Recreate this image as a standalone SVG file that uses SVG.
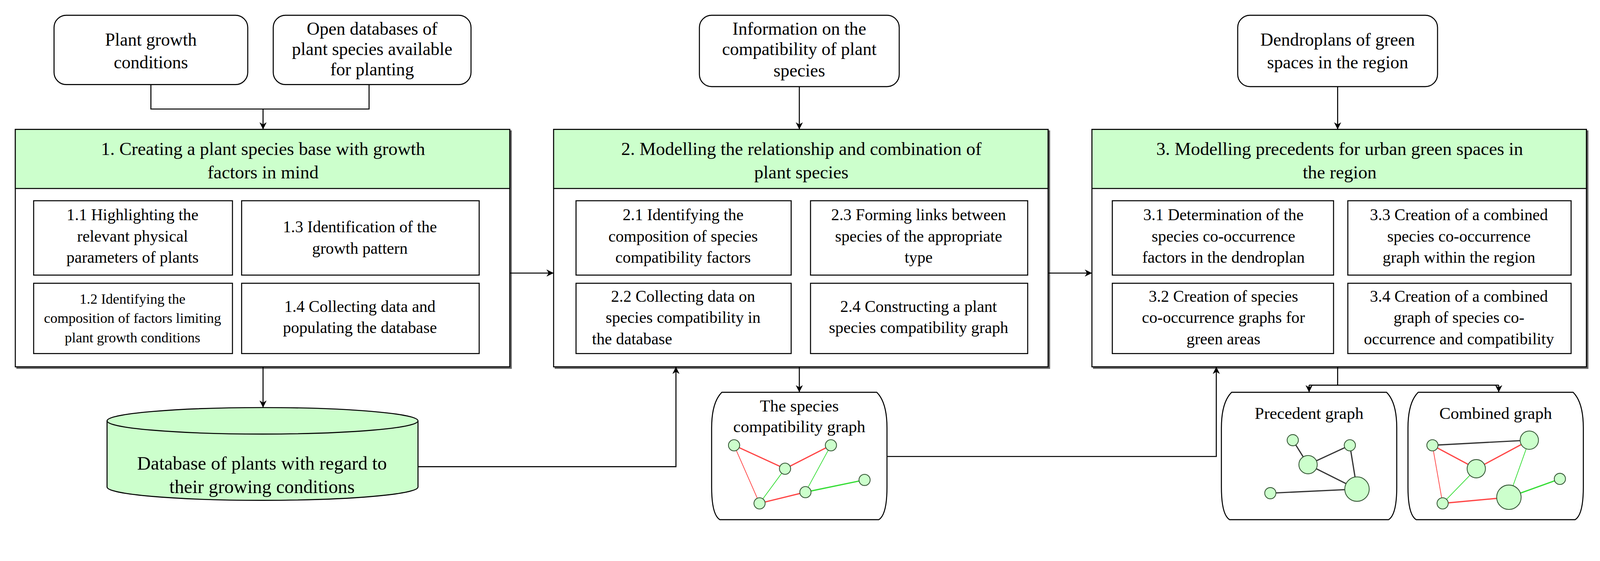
<svg xmlns="http://www.w3.org/2000/svg" width="4273" height="1437" viewBox="0 0 4273 1437">
<defs>
<marker id="ah" viewBox="0 0 10 10" refX="10" refY="5" markerWidth="7" markerHeight="7" orient="auto" markerUnits="userSpaceOnUse"><path d="M0,0 L10,5 L0,10 L3,5 z" fill="#000"/></marker>
<style>
text{font-family:"Liberation Serif","Times New Roman",serif;fill:#000;text-anchor:middle}
.t{font-size:18px}.i{font-size:17.5px}.s{font-size:16px}.x{font-size:14px}.g{font-size:16.5px}.d{font-size:18.5px}
.b{fill:#fff;stroke:#000;stroke-width:1}
.sh{fill:#666}
.h{fill:#ccffcc;stroke:#000;stroke-width:1}
.c{fill:none;stroke:#000;stroke-width:1}
.n{fill:#ccffcc;stroke:#335533;stroke-width:0.8}
.er{stroke:#ff4444;stroke-width:1.2}.eg{stroke:#33dd33;stroke-width:1.2}.ek{stroke:#333;stroke-width:1.2}
</style>
</defs>
<rect width="4273" height="1437" fill="#fff"/>
<g transform="scale(2.61)">
<g id="in1"><rect class="b" x="53" y="15" width="190" height="68" rx="12"/><text class="i" x="148" y="45">Plant growth</text><text class="i" x="148" y="67">conditions</text></g>
<g id="in2"><rect class="b" x="268" y="15" width="194" height="68" rx="12"/><text class="i" x="365" y="34">Open databases of</text><text class="i" x="365" y="54">plant species available</text><text class="i" x="365" y="74">for planting</text></g>
<g id="in3"><rect class="b" x="686" y="15" width="196" height="70" rx="12"/><text class="i" x="784" y="34">Information on the</text><text class="i" x="784" y="54">compatibility of plant</text><text class="i" x="784" y="75">species</text></g>
<g id="in4"><rect class="b" x="1214" y="15" width="196" height="70" rx="12"/><text class="i" x="1312" y="45">Dendroplans of green</text><text class="i" x="1312" y="67">spaces in the region</text></g>

<g id="box1">
<rect class="sh" x="16" y="128" width="486" height="234"/>
<rect class="b" x="15" y="127" width="485" height="233"/>
<rect class="h" x="15" y="127" width="485" height="58"/>
<text class="t" x="258" y="152">1. Creating a plant species base with growth</text><text class="t" x="258" y="175">factors in mind</text>
<rect class="b" x="33" y="197" width="195" height="73"/><text class="s" x="130" y="216">1.1 Highlighting the</text><text class="s" x="130" y="237">relevant physical</text><text class="s" x="130" y="258">parameters of plants</text>
<rect class="b" x="237" y="197" width="233" height="73"/><text class="s" x="353" y="228">1.3 Identification of the</text><text class="s" x="353" y="249">growth pattern</text>
<rect class="b" x="33" y="278" width="195" height="69"/><text class="x" x="130" y="298">1.2 Identifying the</text><text class="x" x="130" y="317">composition of factors limiting</text><text class="x" x="130" y="336">plant growth conditions</text>
<rect class="b" x="237" y="278" width="233" height="69"/><text class="s" x="353" y="306">1.4 Collecting data and</text><text class="s" x="353" y="327">populating the database</text>
</g>
<g id="box2">
<rect class="sh" x="544" y="128" width="486" height="234"/>
<rect class="b" x="543" y="127" width="485" height="233"/>
<rect class="h" x="543" y="127" width="485" height="58"/>
<text class="t" x="786" y="152">2. Modelling the relationship and combination of</text><text class="t" x="786" y="175">plant species</text>
<rect class="b" x="565" y="197" width="211" height="73"/><text class="s" x="670" y="216">2.1 Identifying the</text><text class="s" x="670" y="237">composition of species</text><text class="s" x="670" y="258">compatibility factors</text>
<rect class="b" x="795" y="197" width="213" height="73"/><text class="s" x="901" y="216">2.3 Forming links between</text><text class="s" x="901" y="237">species of the appropriate</text><text class="s" x="901" y="258">type</text>
<rect class="b" x="565" y="278" width="211" height="69"/><text class="s" x="670" y="296">2.2 Collecting data on</text><text class="s" x="670" y="317">species compatibility in</text><text class="s" x="620" y="338">the database</text>
<rect class="b" x="795" y="278" width="213" height="69"/><text class="s" x="901" y="306">2.4 Constructing a plant</text><text class="s" x="901" y="327">species compatibility graph</text>
</g>
<g id="box3">
<rect class="sh" x="1072" y="128" width="486" height="234"/>
<rect class="b" x="1071" y="127" width="485" height="233"/>
<rect class="h" x="1071" y="127" width="485" height="58"/>
<text class="t" x="1314" y="152">3. Modelling precedents for urban green spaces in</text><text class="t" x="1314" y="175">the region</text>
<rect class="b" x="1091" y="197" width="217" height="73"/><text class="s" x="1200" y="216">3.1 Determination of the</text><text class="s" x="1200" y="237">species co-occurrence</text><text class="s" x="1200" y="258">factors in the dendroplan</text>
<rect class="b" x="1322" y="197" width="219" height="73"/><text class="s" x="1431" y="216">3.3 Creation of a combined</text><text class="s" x="1431" y="237">species co-occurrence</text><text class="s" x="1431" y="258">graph within the region</text>
<rect class="b" x="1091" y="278" width="217" height="69"/><text class="s" x="1200" y="296">3.2 Creation of species</text><text class="s" x="1200" y="317">co-occurrence graphs for</text><text class="s" x="1200" y="338">green areas</text>
<rect class="b" x="1322" y="278" width="219" height="69"/><text class="s" x="1431" y="296">3.4 Creation of a combined</text><text class="s" x="1431" y="317">graph of species co-</text><text class="s" x="1431" y="338">occurrence and compatibility</text>
</g>

<g id="db">
<path class="h" d="M105,413 L105,478 A152,13 0 0 0 410,478 L410,413"/>
<ellipse class="h" cx="257.5" cy="413" rx="152.5" ry="13"/>
<text class="d" x="257" y="461">Database of plants with regard to</text><text class="d" x="257" y="484">their growing conditions</text>
</g>

<g id="g1">
<path class="b" d="M708,385 L860,385 Q870,395 870,420 L870,478 Q870,505 862,510 L706,510 Q698,505 698,478 L698,420 Q698,395 708,385 z"/>
<text class="g" x="784" y="404">The species</text><text class="g" x="784" y="424">compatibility graph</text>
<line class="er" x1="720" y1="437" x2="770" y2="460"/><line class="er" x1="815" y1="437" x2="770" y2="460"/>
<line class="er" x1="720" y1="437" x2="745" y2="494" style="stroke-width:0.7"/><line class="er" x1="745" y1="494" x2="790" y2="483"/>
<line class="eg" x1="770" y1="460" x2="745" y2="494" style="stroke-width:0.7"/><line class="eg" x1="815" y1="437" x2="790" y2="483" style="stroke-width:0.7"/>
<line class="eg" x1="790" y1="483" x2="848" y2="471"/>
<circle class="n" cx="720" cy="437" r="5.5"/><circle class="n" cx="815" cy="437" r="5.5"/><circle class="n" cx="770" cy="460" r="5.5"/><circle class="n" cx="848" cy="471" r="5.5"/><circle class="n" cx="790" cy="483" r="5.5"/><circle class="n" cx="745" cy="494" r="5.5"/>
</g>
<g id="g2">
<path class="b" d="M1208,385 L1360,385 Q1370,395 1370,420 L1370,478 Q1370,505 1362,510 L1206,510 Q1198,505 1198,478 L1198,420 Q1198,395 1208,385 z"/>
<text class="g" x="1284" y="411">Precedent graph</text>
<line class="ek" x1="1268" y1="432" x2="1283" y2="456"/><line class="ek" x1="1324" y1="437" x2="1283" y2="456"/><line class="ek" x1="1324" y1="437" x2="1331" y2="480"/><line class="ek" x1="1283" y1="456" x2="1331" y2="480"/><line class="ek" x1="1246" y1="484" x2="1331" y2="480"/>
<circle class="n" cx="1268" cy="432" r="5.5"/><circle class="n" cx="1324" cy="437" r="5.5"/><circle class="n" cx="1283" cy="456" r="9"/><circle class="n" cx="1331" cy="480" r="12"/><circle class="n" cx="1246" cy="484" r="5.5"/>
</g>
<g id="g3">
<path class="b" d="M1391,385 L1543,385 Q1553,395 1553,420 L1553,478 Q1553,505 1545,510 L1389,510 Q1381,505 1381,478 L1381,420 Q1381,395 1391,385 z"/>
<text class="g" x="1467" y="411">Combined graph</text>
<line class="ek" x1="1405" y1="437" x2="1500" y2="432"/><line class="er" x1="1405" y1="437" x2="1448" y2="460"/><line class="er" x1="1500" y1="432" x2="1448" y2="460"/>
<line class="er" x1="1405" y1="437" x2="1415" y2="494" style="stroke-width:0.7"/><line class="er" x1="1415" y1="494" x2="1480" y2="488"/>
<line class="eg" x1="1448" y1="460" x2="1415" y2="494" style="stroke-width:0.7"/><line class="eg" x1="1500" y1="432" x2="1480" y2="488" style="stroke-width:0.7"/><line class="eg" x1="1480" y1="488" x2="1530" y2="470"/>
<circle class="n" cx="1405" cy="437" r="5.5"/><circle class="n" cx="1500" cy="432" r="9"/><circle class="n" cx="1448" cy="460" r="9"/><circle class="n" cx="1530" cy="470" r="5.5"/><circle class="n" cx="1480" cy="488" r="12"/><circle class="n" cx="1415" cy="494" r="5.5"/>
</g>

<g id="connectors">
<path class="c" d="M148,83 L148,107 L362,107 L362,83"/>
<path class="c" d="M258,107 L258,127" marker-end="url(#ah)"/>
<path class="c" d="M784,85 L784,127" marker-end="url(#ah)"/>
<path class="c" d="M1312,85 L1312,127" marker-end="url(#ah)"/>
<path class="c" d="M500,268 L543,268" marker-end="url(#ah)"/>
<path class="c" d="M1028,268 L1071,268" marker-end="url(#ah)"/>
<path class="c" d="M258,360 L258,400" marker-end="url(#ah)"/>
<path class="c" d="M410,458 L663,458 L663,360" marker-end="url(#ah)"/>
<path class="c" d="M784,360 L784,385" marker-end="url(#ah)"/>
<path class="c" d="M870,448 L1193,448 L1193,360" marker-end="url(#ah)"/>
<path class="c" d="M1312,360 L1312,378"/>
<path class="c" d="M1284,378 L1470,378"/>
<path class="c" d="M1284,378 L1284,385" marker-end="url(#ah)"/>
<path class="c" d="M1470,378 L1470,385" marker-end="url(#ah)"/>
</g>
</g>
</svg>
